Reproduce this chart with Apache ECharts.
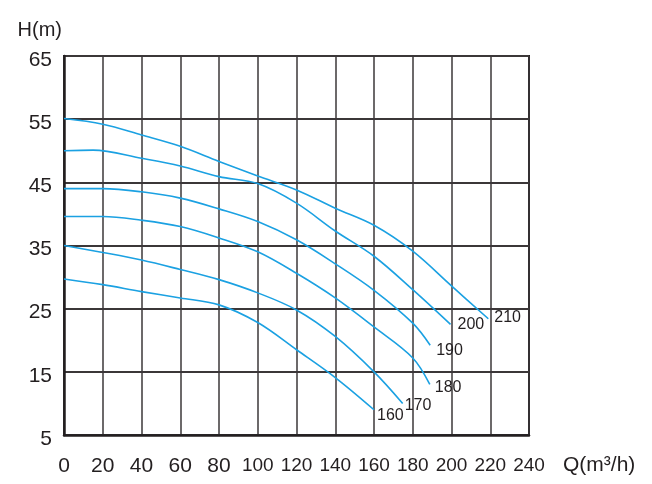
<!DOCTYPE html>
<html>
<head>
<meta charset="utf-8">
<title>H-Q curves</title>
<script src="https://cdn.jsdelivr.net/npm/echarts@6/dist/echarts.min.js"></script>
<style>
    html, body { margin: 0; padding: 0; background: #fff; }
    #main { width: 652px; height: 484px; }
</style>
</head>
<body>
<div id="main"></div>
<script>
// axis ticks
const flowTicks = [0, 20, 40, 60, 80, 100, 120, 140, 160, 180, 200, 220, 240];
const headTicks = [5, 15, 25, 35, 45, 55, 65];

// one curve per impeller (Q in m3/h, H in m)
const curveNames = ['160', '170', '180', '190', '200', '210'];

const q160 = [0, 20, 40, 60, 80, 100, 120, 140, 160];
const h160 = [29.7, 28.8, 27.7, 26.7, 25.6, 22.8, 18.5, 14.1, 9.0];

const q170 = [0, 20, 40, 60, 80, 100, 120, 140, 160, 174.8];
const h170 = [35.0, 33.9, 32.7, 31.2, 29.6, 27.5, 24.8, 20.6, 15.0, 10.0];

const q180 = [0, 20, 40, 60, 80, 100, 120, 140, 160, 180, 188.8];
const h180 = [39.6, 39.6, 39.0, 38.0, 36.2, 34.0, 30.6, 26.7, 22.1, 17.2, 13.0];

const q190 = [0, 20, 40, 60, 80, 100, 120, 140, 160, 180, 189];
const h190 = [44.0, 44.0, 43.5, 42.5, 40.8, 38.8, 35.9, 32.1, 27.9, 22.7, 19.2];

const q200 = [0, 15, 40, 60, 80, 100, 120, 140, 160, 180, 199.5];
const h200 = [50.0, 50.1, 48.8, 47.6, 45.9, 44.8, 41.7, 37.3, 33.3, 28.0, 22.5];

const q210 = [0, 20, 40, 60, 80, 100, 120, 140, 160, 180, 200, 219];
const h210 = [55.1, 54.2, 52.5, 50.7, 48.3, 46.0, 43.8, 40.9, 38.2, 34.1, 28.6, 23.4];

const curveQ = [q160, q170, q180, q190, q200, q210];
const curveH = [h160, h170, h180, h190, h200, h210];

// where each curve's number sits next to its end
const endLabelOffsets = [[3, 6], [2, 2], [5, 3], [6, 5], [7, 0], [6, -1]];

const ink = '#231f20';
const blue = '#1ba1e2';
const sans = '"Liberation Sans", Arial, sans-serif';

const chart = echarts.init(document.getElementById('main'));

const series = curveNames.map((name, i) => ({
    name: name,
    type: 'line',
    data: curveQ[i].map((q, j) => [q, curveH[i][j]]),
    smooth: 0.35,
    showSymbol: false,
    lineStyle: { color: blue, width: 1.6 },
    endLabel: {
        show: true,
        formatter: '{a}',
        distance: 0,
        offset: endLabelOffsets[i],
        color: ink,
        fontSize: 16,
        fontFamily: sans
    }
}));

const option = {
    animation: false,
    backgroundColor: '#fff',
    textStyle: { fontFamily: sans, color: ink },
    grid: {
        left: 64,
        right: 123,
        top: 56,
        bottom: 49,
        show: true,
        borderColor: ink,
        borderWidth: 2,
        outerBoundsMode: 'none'
    },
    xAxis: {
        type: 'value',
        min: flowTicks[0],
        max: flowTicks[flowTicks.length - 1],
        interval: flowTicks[1] - flowTicks[0],
        name: 'Q(m³/h)',
        nameLocation: 'end',
        nameGap: 34,
        // push the name down level with the tick labels
        nameTextStyle: { fontSize: 21, color: ink, verticalAlign: 'top', lineHeight: 60 },
        axisLine: { show: true, lineStyle: { color: ink, width: 2.5 } },
        axisTick: { show: false },
        splitLine: { show: true, lineStyle: { color: '#3b3738', width: 1.5 } },
        axisLabel: {
            margin: 21,
            color: ink,
            // three-digit labels are squeezed in the original, so a size smaller
            formatter: v => (v >= 100 ? '{n|' + v + '}' : '{w|' + v + '}'),
            rich: {
                n: { fontSize: 19, fontFamily: sans, color: ink },
                w: { fontSize: 21, fontFamily: sans, color: ink }
            }
        }
    },
    yAxis: {
        type: 'value',
        min: headTicks[0],
        max: headTicks[headTicks.length - 1],
        interval: headTicks[1] - headTicks[0],
        name: 'H(m)',
        nameLocation: 'end',
        nameGap: 16,
        nameTextStyle: { fontSize: 20, color: ink, align: 'right', padding: [0, 2, 0, 0] },
        axisLine: { show: true, lineStyle: { color: ink, width: 2.5 } },
        axisTick: { show: false },
        splitLine: { show: true, lineStyle: { color: '#3b3738', width: 2 } },
        axisLabel: {
            margin: 12,
            fontSize: 21,
            color: ink,
            verticalAlign: 'top',
            lineHeight: 8
        }
    },
    series: series
};

chart.setOption(option);
</script>
</body>
</html>
